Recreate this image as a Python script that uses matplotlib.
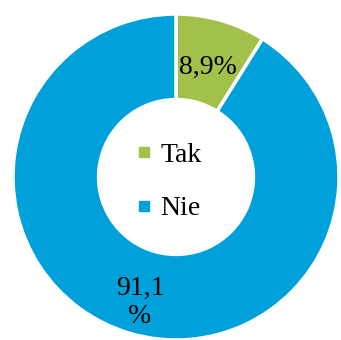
import numpy as np
import matplotlib.pyplot as plt
from matplotlib.lines import Line2D

labels = ["Tak", "Nie"]
values = [8.9, 91.1]
value_texts = ["8,9%", "91,1\n%"]
colours = ["#A2C14A", "#00A0DA"]

plt.rcParams["font.family"] = ["Liberation Serif", "DejaVu Serif"]

fig = plt.figure(figsize=(3.41, 3.40), dpi=100)
ax = fig.add_axes([0, 0, 1, 1])

wedges, _ = ax.pie(values, colors=colours, startangle=90, counterclock=False,
                   radius=1.0, wedgeprops=dict(width=0.525, edgecolor="white", linewidth=2.5))

# value labels at wedge mid-angles
for w, txt, dist in zip(wedges, value_texts, [0.70, 0.80]):
    ang = np.deg2rad((w.theta1 + w.theta2) / 2)
    ax.text(dist * np.cos(ang), dist * np.sin(ang), txt, ha="center", va="center",
            fontsize=20, linespacing=1.2)

handles = [Line2D([], [], marker="s", linestyle="none", markersize=7,
                  markerfacecolor=c, markeredgecolor=c) for c in colours]
ax.legend(handles, labels, loc="center", bbox_to_anchor=(0.49, 0.465), frameon=False,
          fontsize=20, handlelength=0.8, handletextpad=0.2, labelspacing=1.0)

ax.set_aspect("equal")
r = 163
ax.set_xlim(-176 / r, (341 - 176) / r)
ax.set_ylim(-(340 - 177) / r, 177 / r)
ax.axis("off")

fig.savefig("out.png", dpi=100)
